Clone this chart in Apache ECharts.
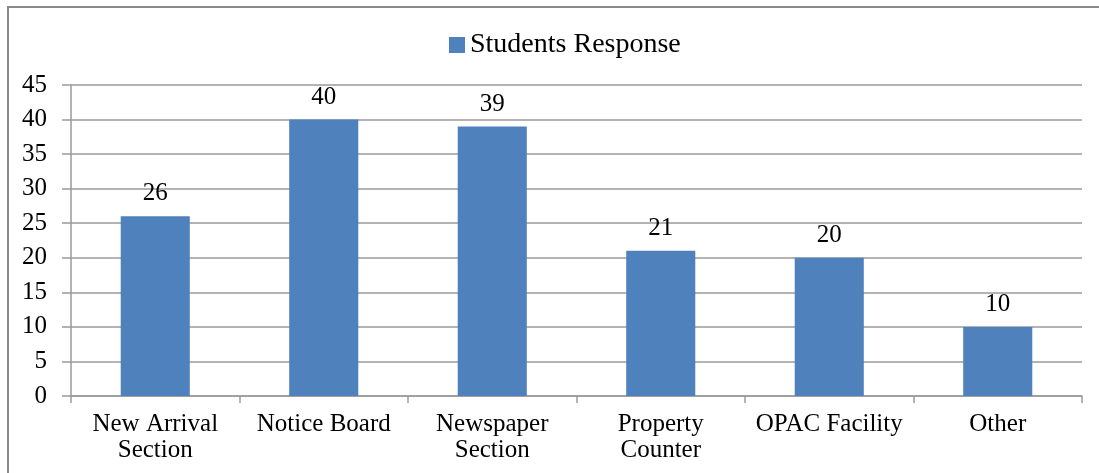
<!DOCTYPE html>
<html>
<head>
<meta charset="utf-8">
<script src="https://cdn.jsdelivr.net/npm/echarts@6/dist/echarts.min.js"></script>
<style>
html,body{margin:0;padding:0;background:#fff;}
#chart{width:1099px;height:473px;}
</style>
</head>
<body>
<div id="chart"></div>
<script>
const categories = ["New Arrival\nSection", "Notice Board", "Newspaper\nSection", "Property\nCounter", "OPAC Facility", "Other"];
const seriesName = "Students Response";
const values = [26, 40, 39, 21, 20, 10];
const yTicks = { min: 0, max: 45, interval: 5 };

const FONT = "Liberation Serif";
const chart = echarts.init(document.getElementById('chart'));
chart.setOption({
  animation: false,
  backgroundColor: '#fff',
  textStyle: { fontFamily: FONT, color: '#000' },
  graphic: [{
    type: 'rect',
    shape: { x: 8, y: 7, width: 1200, height: 600 },
    style: { fill: 'none', stroke: '#8a8a8a', lineWidth: 2 },
    silent: true
  }],
  legend: {
    top: 26,
    left: 444,
    itemWidth: 16,
    itemHeight: 16,
    itemGap: 10,
    icon: 'rect',
    textStyle: { fontFamily: FONT, fontSize: 28, color: '#000' },
    data: [seriesName]
  },
  grid: { left: 71, right: 17, top: 85, bottom: 77, containLabel: false },
  xAxis: {
    type: 'category',
    data: categories,
    axisLine: { lineStyle: { color: '#9a9a9a', width: 1.5 } },
    axisTick: { show: true, length: 7, lineStyle: { color: '#9a9a9a', width: 1.5 }, alignWithLabel: false },
    axisLabel: { fontFamily: FONT, fontSize: 25, color: '#000', lineHeight: 26, margin: 15, interval: 0 }
  },
  yAxis: {
    type: 'value',
    min: yTicks.min, max: yTicks.max, interval: yTicks.interval,
    axisLine: { show: true, lineStyle: { color: '#9a9a9a', width: 1.5 } },
    axisTick: { show: true, length: 9, lineStyle: { color: '#9a9a9a', width: 1.5 } },
    splitLine: { show: true, lineStyle: { color: '#9a9a9a', width: 1.5 } },
    axisLabel: { fontFamily: FONT, fontSize: 25, color: '#000', margin: 24 }
  },
  series: [{
    name: seriesName,
    type: 'bar',
    data: values,
    barWidth: '41%',
    itemStyle: { color: '#4F81BD' },
    label: { show: true, position: 'top', distance: 10, fontFamily: FONT, fontSize: 25, color: '#000' }
  }]
});
</script>
</body>
</html>
